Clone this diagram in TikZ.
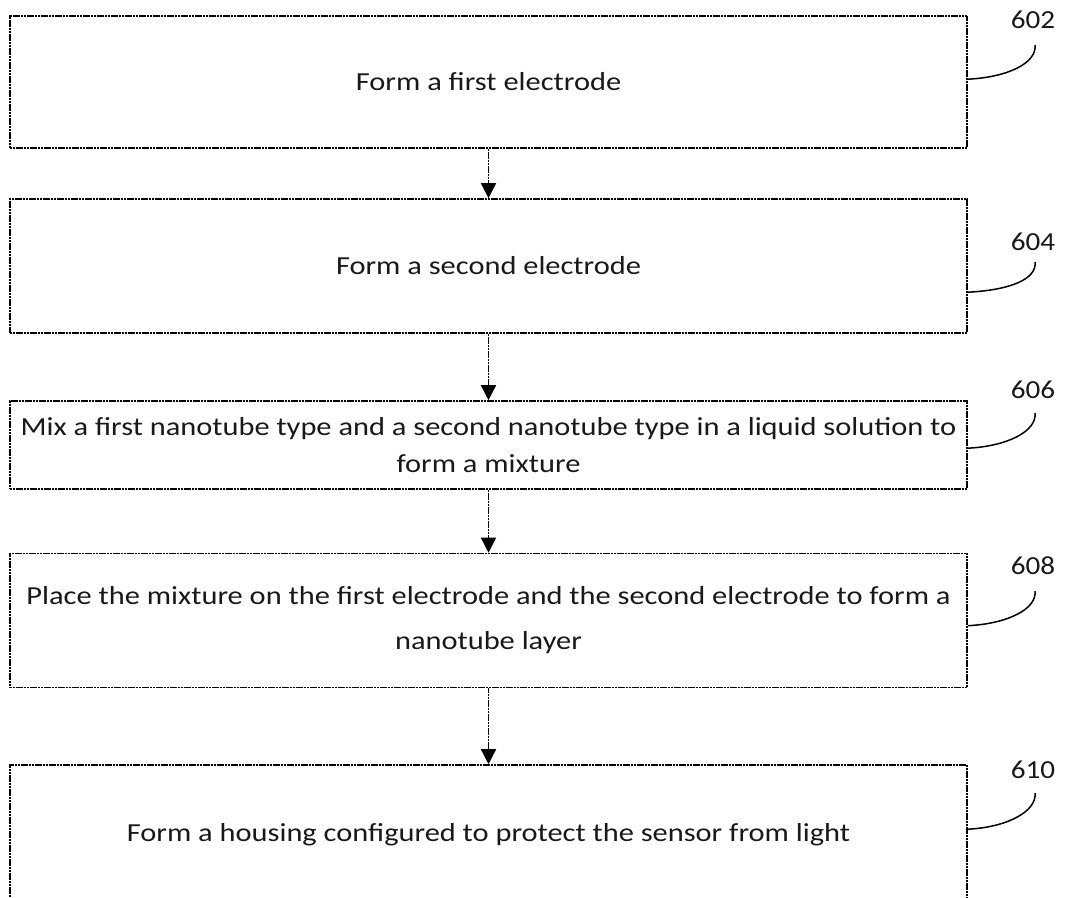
\documentclass[tikz,border=0pt]{standalone}
\usepackage{fontspec}
\setmainfont{Carlito}
\newfontfamily\boxfont[FakeStretch=1.17]{Carlito}
\newfontfamily\lblfont[FakeStretch=1.12]{Carlito}
\usetikzlibrary{arrows.meta,calc}
\begin{document}
\begin{tikzpicture}[x=1pt,y=-1pt,
  stepbox/.style={draw=black, line width=1.6pt, dash pattern=on 2.2pt off 0.6pt,
    rectangle, minimum width=957pt, inner sep=0pt, align=center,
    font=\boxfont\fontsize{26}{30}\selectfont, text=black!90},
  flow/.style={draw=black, line width=1.5pt, dash pattern=on 2.2pt off 0.6pt,
    -{Triangle[width=15pt,length=15pt]}},
  lbl/.style={font=\lblfont\fontsize{26}{30}\selectfont, inner sep=0pt, text=black!90},
  lead/.style={draw=black, line width=1.5pt}]
\clip (0,0) rectangle (1065,897);
\fill[white] (0,0) rectangle (1065,897);
% boxes
\node[stepbox, minimum height=132pt] (b602) at (488.5,82) {Form a first electrode};
\node[stepbox, minimum height=134pt] (b604) at (488.5,266) {Form a second electrode};
\node[stepbox, minimum height=88pt] (b606) at (488.5,445)
  {Mix a first nanotube type and a second nanotube type in a liquid solution to\\[7pt]form a mixture};
\node[stepbox, minimum height=134pt] (b608) at (488.5,620.5)
  {Place the mixture on the first electrode and the second electrode to form a\\[15pt]nanotube layer};
\node[stepbox, minimum height=140pt] (b610) at (488.5,835)
  {Form a housing configured to protect the sensor from light};
% flow arrows
\draw[flow] (b602.south) -- (b604.north);
\draw[flow] (b604.south) -- (b606.north);
\draw[flow] (b606.south) -- (b608.north);
\draw[flow] (b608.south) -- (b610.north);
% reference labels
\node[lbl] (l602) at (1033,20) {602};
\node[lbl] (l604) at (1033,242) {604};
\node[lbl] (l606) at (1033,390) {606};
\node[lbl] (l608) at (1033,566) {608};
\node[lbl] (l610) at (1033,770) {610};
\coordinate (e602) at (1035,45);
\coordinate (e604) at (1035,262);
\coordinate (e606) at (1035,413);
\coordinate (e608) at (1035,591);
\coordinate (e610) at (1035,793);
\draw[lead] ($(b602.north east)+(0,64)$) .. controls +(40,-2) and +(2,18) .. (e602);
\draw[lead] ($(b604.north east)+(0,94)$) .. controls +(40,-2) and +(2,18) .. (e604);
\draw[lead] ($(b606.north east)+(0,48)$) .. controls +(40,-2) and +(2,18) .. (e606);
\draw[lead] ($(b608.north east)+(0,73)$) .. controls +(40,-2) and +(2,18) .. (e608);
\draw[lead] ($(b610.north east)+(0,65)$) .. controls +(40,-2) and +(2,18) .. (e610);
\end{tikzpicture}
\end{document}
